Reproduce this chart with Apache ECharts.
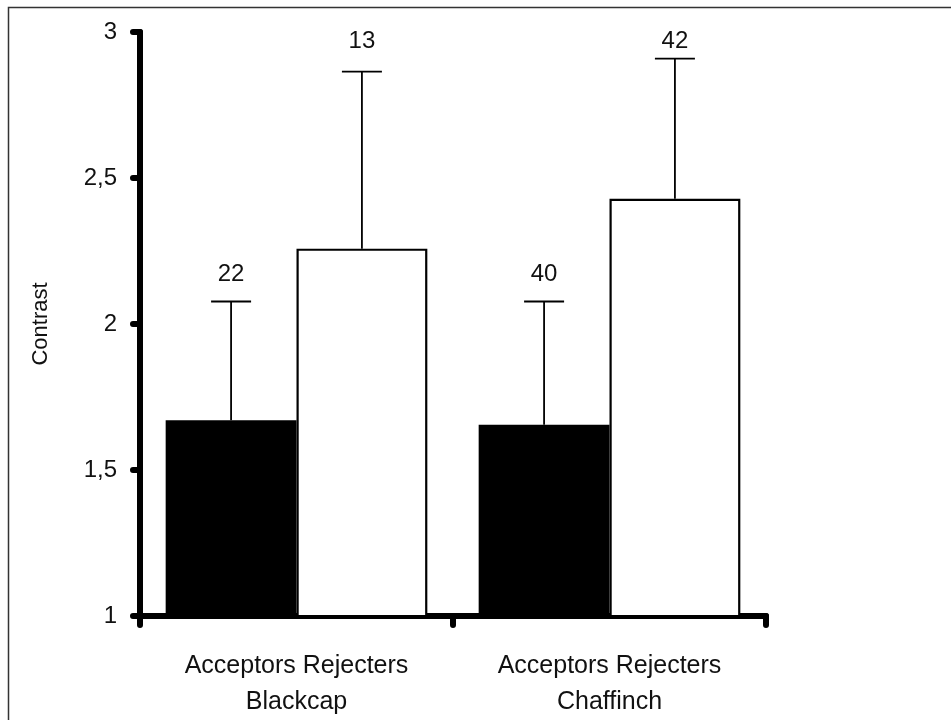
<!DOCTYPE html>
<html>
<head>
<meta charset="utf-8">
<script src="https://cdn.jsdelivr.net/npm/echarts@6/dist/echarts.min.js"></script>
<style>
html,body{margin:0;padding:0;background:#fff;}
#chart{width:951px;height:720px;}
</style>
</head>
<body>
<div id="chart"></div>
<script>
var species = ['Blackcap', 'Chaffinch'];
var groupNames = ['Acceptors', 'Rejecters'];
var acceptorsMean = [1.67, 1.655];
var rejectersMean = [2.258, 2.429];
var acceptorsUpper = [2.077, 2.077];
var rejectersUpper = [2.864, 2.909];
var acceptorsN = [22, 40];
var rejectersN = [13, 42];
var yTicks = [1, 1.5, 2, 2.5, 3];

var FONT = 'Liberation Sans, Arial, sans-serif';
var CAT_GAP = 0.164;

function errorSeries(name, means, uppers, ns, side) {
  var data = means.map(function (m, i) { return [i, m, uppers[i], ns[i]]; });
  return {
    type: 'custom',
    name: name + ' error',
    z: 5,
    data: data,
    encode: { x: 0, y: [1, 2] },
    renderItem: function (params, api) {
      var idx = api.value(0);
      var base = api.coord([idx, api.value(1)]);
      var top = api.coord([idx, api.value(2)]);
      var axisTop = api.coord([idx, 3])[1];
      var cat = api.size([1, 0])[0];
      var bw = cat * (1 - CAT_GAP) / 2;
      var x = base[0] + side * bw / 2;
      var cap = 20;
      var baseline = top[1] - 19;
      if (baseline < axisTop + 40) baseline = axisTop + 17;
      return {
        type: 'group',
        children: [
          { type: 'line', shape: { x1: x, y1: base[1], x2: x, y2: top[1] },
            style: { stroke: '#000', lineWidth: 1.8 } },
          { type: 'line', shape: { x1: x - cap, y1: top[1], x2: x + cap, y2: top[1] },
            style: { stroke: '#000', lineWidth: 1.8 } },
          { type: 'text', x: x, y: baseline + 4,
            style: { text: String(api.value(3)), align: 'center', verticalAlign: 'bottom',
              fontSize: 24, fontFamily: FONT, fill: '#111' } }
        ]
      };
    }
  };
}

var chart = echarts.init(document.getElementById('chart'), null, { renderer: 'canvas' });
chart.setOption({
  backgroundColor: '#fff',
  animation: false,
  graphic: [{
    type: 'rect', left: 6, top: 5, z: 100,
    shape: { x: 0, y: 0, width: 960, height: 730 },
    style: { fill: 'none', stroke: '#333', lineWidth: 1.5 }
  }],
  grid: { left: 140, right: 185, top: 32, bottom: 100, containLabel: false },
  xAxis: {
    type: 'category',
    data: species,
    axisLine: { lineStyle: { color: '#000', width: 6, cap: 'round' } },
    axisTick: { show: true, length: 9, lineStyle: { color: '#000', width: 6, cap: 'round' } },
    axisLabel: {
      margin: 32,
      fontSize: 25,
      fontFamily: FONT,
      color: '#111',
      lineHeight: 36,
      formatter: function (v) { return groupNames.join(' ') + '\n' + v; }
    }
  },
  yAxis: {
    type: 'value',
    min: 1, max: 3, interval: 0.5,
    name: 'Contrast',
    nameLocation: 'middle',
    nameRotate: 90,
    nameGap: 88,
    nameTextStyle: { fontSize: 22, fontFamily: FONT, color: '#111' },
    splitLine: { show: false },
    axisLine: { show: true, lineStyle: { color: '#000', width: 6, cap: 'round' } },
    axisTick: { show: true, length: 7, lineStyle: { color: '#000', width: 6, cap: 'round' } },
    axisLabel: {
      margin: 23, fontSize: 24, fontFamily: FONT, color: '#111',
      customValues: yTicks,
      formatter: function (v) { return String(v).replace('.', ','); }
    }
  },
  series: [
    { type: 'bar', name: groupNames[0], data: acceptorsMean, barGap: '0%', barCategoryGap: (CAT_GAP * 100) + '%',
      itemStyle: { color: '#000', borderColor: '#000', borderWidth: 2 } },
    { type: 'bar', name: groupNames[1], data: rejectersMean, barGap: '0%', barCategoryGap: (CAT_GAP * 100) + '%',
      itemStyle: { color: '#fff', borderColor: '#000', borderWidth: 2.2 } },
    errorSeries('Acceptors', acceptorsMean, acceptorsUpper, acceptorsN, -1),
    errorSeries('Rejecters', rejectersMean, rejectersUpper, rejectersN, 1)
  ]
});
</script>
</body>
</html>
